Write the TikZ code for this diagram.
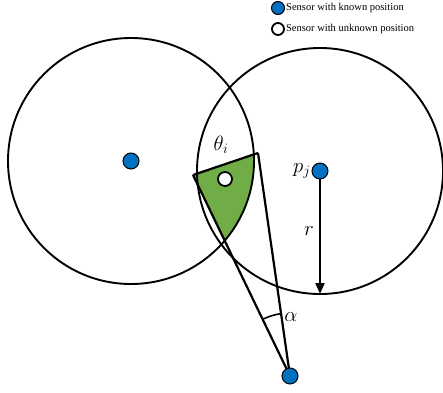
\documentclass[tikz,border=0pt]{standalone}
\usepackage{fontspec}
\setmainfont{Liberation Serif}
\usepackage{xcolor}
\usetikzlibrary{arrows.meta,calc}

\definecolor{knownblue}{HTML}{0070C0}
\definecolor{regiongreen}{HTML}{70AD47}

\begin{document}
\begin{tikzpicture}[
    x=1pt, y=1pt,
    rangecircle/.style={line width=1.9pt},
    ray/.style={line width=2.2pt},
    known/.style={circle, draw=black, line width=1pt, fill=knownblue, minimum size=16pt, inner sep=0pt},
    unknown/.style={circle, draw=black, line width=1.8pt, fill=white, minimum size=14pt, inner sep=0pt},
    legendtext/.style={right, inner sep=1pt, font=\fontsize{10.5}{12}\selectfont},
    lab/.style={font=\fontsize{21}{23}\selectfont},
    arrow/.style={-{Triangle[length=11pt,width=9pt]}, line width=1.9pt}
]
\useasboundingbox (0,0) rectangle (443,392);

% sensor positions and ranges
\coordinate (ci) at (131,231);
\coordinate (pj) at (320,221);
\coordinate (apex) at (290,16);
\coordinate (leftc) at (193,217);
\coordinate (rightc) at (258,239);
\coordinate (bottom) at ($(pj)+(0,-123)$);

% feasible region
\begin{scope}
  \clip (ci) circle (123);
  \fill[regiongreen] (leftc) -- (rightc) -- (apex) -- cycle;
\end{scope}

\draw[rangecircle] (ci) circle (123);
\draw[rangecircle] (pj) circle (123);

\draw[ray] (leftc) -- (rightc);
\draw[ray] (leftc) -- (apex);
\draw[ray] (rightc) -- (apex);
\draw[line width=1.6pt] ($(apex)+(98:63)$) arc (98:116:63);

\draw[arrow] (pj) -- (bottom);

\node[known] (si) at (ci) {};
\node[known] (sj) at (pj) {};
\node[known] (sa) at (apex) {};
\node[unknown] (su) at (225,213) {};

\node[lab] (theta) at (221,247) {$\theta_i$};
\node[lab, left=6pt] (pjlab) at (pj) {$p_j$};
\node[lab] (rlab) at (309,161) {$r$};
\node[lab] (alpha) at (291,75) {$\alpha$};

% legend
\node[known, minimum size=13pt] (kdot) at (278,384) {};
\node[legendtext] (ktext) at (kdot.east) {Sensor with known position};
\node[unknown, minimum size=12pt] (udot) at (278,363) {};
\node[legendtext] (utext) at (udot.east) {Sensor with unknown position};
\end{tikzpicture}
\end{document}
